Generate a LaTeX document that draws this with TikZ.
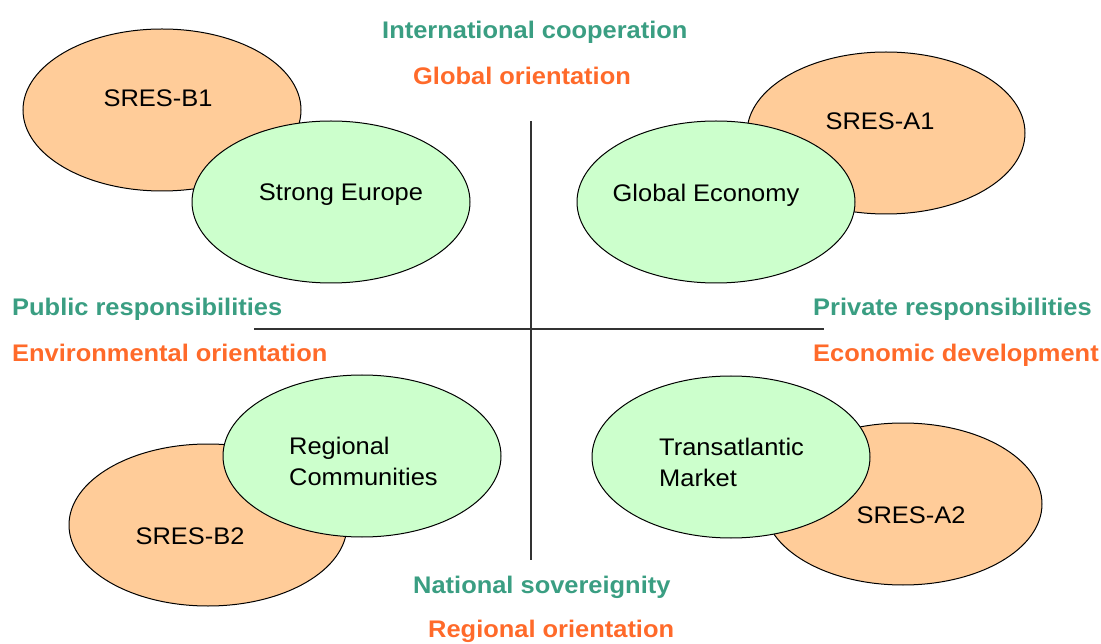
\documentclass[tikz,border=0pt]{standalone}
\usepackage{fontspec}
\setmainfont{Liberation Sans}[FakeStretch=1.06]
\usetikzlibrary{shapes.geometric}
\definecolor{ellorange}{HTML}{FFCC99}
\definecolor{ellgreen}{HTML}{CCFFCC}
\definecolor{txtgreen}{HTML}{3A9E82}
\definecolor{txtorange}{HTML}{FF6A2A}
\tikzset{
  bubble/.style={ellipse, draw=black, line width=1pt, minimum width=278pt, minimum height=162pt, inner sep=0pt},
  sres/.style={bubble, fill=ellorange},
  scen/.style={bubble, fill=ellgreen},
  etext/.style={font=\fontsize{24}{31}\selectfont, text=black, inner sep=0pt},
  axlbl/.style={font=\bfseries\fontsize{24}{29}\selectfont, inner sep=0pt},
  glbl/.style={axlbl, text=txtgreen},
  olbl/.style={axlbl, text=txtorange},
  axis/.style={draw=black!80, line width=1.5pt}
}
\begin{document}
\begin{tikzpicture}[x=1pt,y=-1pt]
\useasboundingbox (0,0) rectangle (1101,644);
% axes
\coordinate (vt) at (531,121);
\coordinate (vb) at (531,560);
\coordinate (hl) at (254,329);
\coordinate (hr) at (824,329);
\draw[axis] (vt) -- (vb);
\draw[axis] (hl) -- (hr);
% SRES ellipses
\node[sres] (b1) at (162,110) {};
\node[sres] (a1) at (886,133) {};
\node[sres] (b2) at (208,525) {};
\node[sres] (a2) at (903,504) {};
% scenario ellipses
\node[scen] (se) at (331,202) {};
\node[scen] (ge) at (716,202) {};
\node[scen] (rc) at (362,456) {};
\node[scen] (tm) at (731,457) {};
% ellipse texts
\node[etext, anchor=base] (tb1) at (158,107) {SRES-B1};
\node[etext, anchor=base] (ta1) at (880,130) {SRES-A1};
\node[etext, anchor=base] (tb2) at (190,544) {SRES-B2};
\node[etext, anchor=base] (ta2) at (911,523) {SRES-A2};
\node[etext, anchor=base] (tse) at (341,201) {Strong Europe};
\node[etext, anchor=base] (tge) at (706,202) {Global Economy};
\node[etext, anchor=base west, align=left] (trc) at (289,485) {Regional\\Communities};
\node[etext, anchor=base west, align=left] (ttm) at (659,486) {Transatlantic\\Market};
% axis labels
\node[glbl, anchor=base west] (ic) at (382,39) {International cooperation};
\node[olbl, anchor=base west] (go) at (413,85) {Global orientation};
\node[glbl, anchor=base west] (pu) at (12,316) {Public responsibilities};
\node[olbl, anchor=base west] (en) at (12,362) {Environmental orientation};
\node[glbl, anchor=base west] (pr) at (813,316) {Private responsibilities};
\node[olbl, anchor=base west] (ec) at (813,362) {Economic development};
\node[glbl, anchor=base west] (ns) at (413,593) {National sovereignity};
\node[olbl, anchor=base west] (ro) at (428,637) {Regional orientation};
\end{tikzpicture}
\end{document}
